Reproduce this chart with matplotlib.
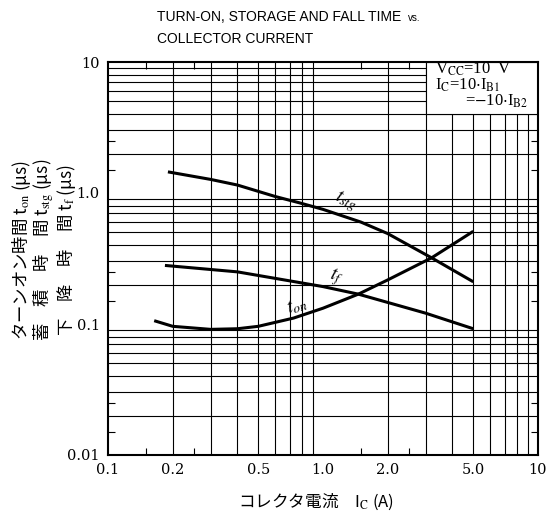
import matplotlib
matplotlib.use("Agg")
import matplotlib.pyplot as plt
from matplotlib.patches import Rectangle

# collector current I_C (A) vs switching times (us)
ic_stg = [0.19, 0.3, 0.4, 0.6, 0.78, 1.0, 1.5, 2.0, 3.2, 5.0]
t_stg = [1.45, 1.27, 1.15, 0.94, 0.84, 0.75, 0.60, 0.49, 0.32, 0.21]

ic_f = [0.184, 0.4, 1.0, 1.46, 3.0, 5.0]
t_f = [0.28, 0.25, 0.193, 0.169, 0.121, 0.092]

ic_on = [0.164, 0.2, 0.3, 0.4, 0.5, 0.73, 1.0, 1.46, 2.0, 3.2, 5.0]
t_on = [0.106, 0.096, 0.091, 0.092, 0.096, 0.111, 0.132, 0.169, 0.217, 0.32, 0.51]

xticks = [0.1, 0.2, 0.5, 1.0, 2.0, 5.0, 10]
xticklabels = ["0.1", "0.2", "0.5", "1.0", "2.0", "5.0", "10"]
yticks = [0.01, 0.1, 1.0, 10]
yticklabels = ["0.01", "0.1", "1.0", "10"]

cjk = ["Noto Sans CJK JP", "DejaVu Sans"]
plt.rcParams["mathtext.fontset"] = "stix"

fig = plt.figure(figsize=(5.57, 5.14), dpi=100)
ax = fig.add_axes([108 / 557, 1 - 455 / 514, 430 / 557, 393 / 514])
ax.set_xscale("log")
ax.set_yscale("log")
ax.set_xlim(0.1, 10)
ax.set_ylim(0.01, 10)

# grid at 2..9 of every decade
for dec in [0.1, 1.0]:
    for v in range(2, 10):
        ax.axvline(v * dec, color="black", lw=0.8, zorder=1)
for dec in [0.01, 0.1, 1.0]:
    for v in range(2, 10):
        ax.axhline(v * dec, color="black", lw=0.8, zorder=1)

# white box for the test conditions
ax.add_patch(Rectangle((3, 4), 7, 6, facecolor="white", edgecolor="black",
                       lw=0.8, zorder=1.8))

for x, y in [(ic_stg, t_stg), (ic_f, t_f), (ic_on, t_on)]:
    ax.plot(x, y, color="black", lw=2.2, solid_capstyle="butt", zorder=3)

ax.set_xticks(xticks)
ax.set_xticklabels(xticklabels)
ax.set_yticks(yticks)
ax.set_yticklabels(yticklabels)
ax.set_xticks([0.15, 0.25, 1.5, 2.5], minor=True)
ax.set_yticks([0.015, 0.025, 0.15, 0.25, 1.5, 2.5], minor=True)
ax.xaxis.set_minor_formatter(plt.NullFormatter())
ax.yaxis.set_minor_formatter(plt.NullFormatter())
ax.tick_params(which="major", length=0, pad=6, labelsize=10.5)
ax.tick_params(which="minor", length=5, width=0.8, direction="in",
               top=True, right=True)
for lab in ax.get_xticklabels() + ax.get_yticklabels():
    lab.set_family("DejaVu Serif")
for s in ax.spines.values():
    s.set_linewidth(1.5)

# curve labels
ax.text(1.27, 0.86, r"$t_{stg}$", fontsize=14, rotation=-22,
        ha="center", va="center", zorder=4)
ax.text(1.15, 0.228, r"$t_{f}$", fontsize=14, rotation=-14,
        ha="center", va="center", zorder=4)
ax.text(0.76, 0.137, r"$t_{on}$", fontsize=14, rotation=18,
        ha="center", va="center", zorder=4)

# test conditions
ax.text(0.760, 0.982, r"V$_{\rm CC}$=10  V", transform=ax.transAxes,
        family="Liberation Serif", fontsize=12, ha="left", va="center", zorder=4)
ax.text(0.760, 0.941, r"I$_{\rm C}$=10$\cdot$I$_{\rm B1}$", transform=ax.transAxes,
        family="Liberation Serif", fontsize=12, ha="left", va="center", zorder=4)
ax.text(0.977, 0.901, r"=$-$10$\cdot$I$_{\rm B2}$", transform=ax.transAxes,
        family="Liberation Serif", fontsize=12, ha="right", va="center", zorder=4)

# title
t1 = fig.text(157 / 557, 1 - 17 / 514, "TURN-ON, STORAGE AND FALL TIME",
              family="Liberation Sans", fontsize=10, ha="left", va="center")
fig.text(157 / 557, 1 - 39 / 514, "COLLECTOR CURRENT",
         family="Liberation Sans", fontsize=10, ha="left", va="center")
fig.canvas.draw()
bb = t1.get_window_extent()
fig.text((bb.x1 + 7) / 557, 1 - 18 / 514, "vs.", family="Liberation Sans",
         fontsize=7, ha="left", va="center")

# y axis label, three columns
ylab = ["ターンオン時間 t$_{\\rm on}$ (μs)",
        "蓄　積　時　間 t$_{\\rm stg}$ (μs)",
        "下　降　時　間 t$_{\\rm f}$ (μs)"]
for i, s in enumerate(ylab):
    fig.text((22 + 22 * i) / 557, 1 - 250 / 514, s, family=cjk, fontsize=12.5,
             rotation=90, ha="center", va="center")

# x axis label
fig.text(316 / 557, 1 - 502 / 514, "コレクタ電流　I$_{\\rm C}$ (A)",
         family=cjk, fontsize=12, ha="center", va="center")

fig.savefig("out.png", dpi=100)
